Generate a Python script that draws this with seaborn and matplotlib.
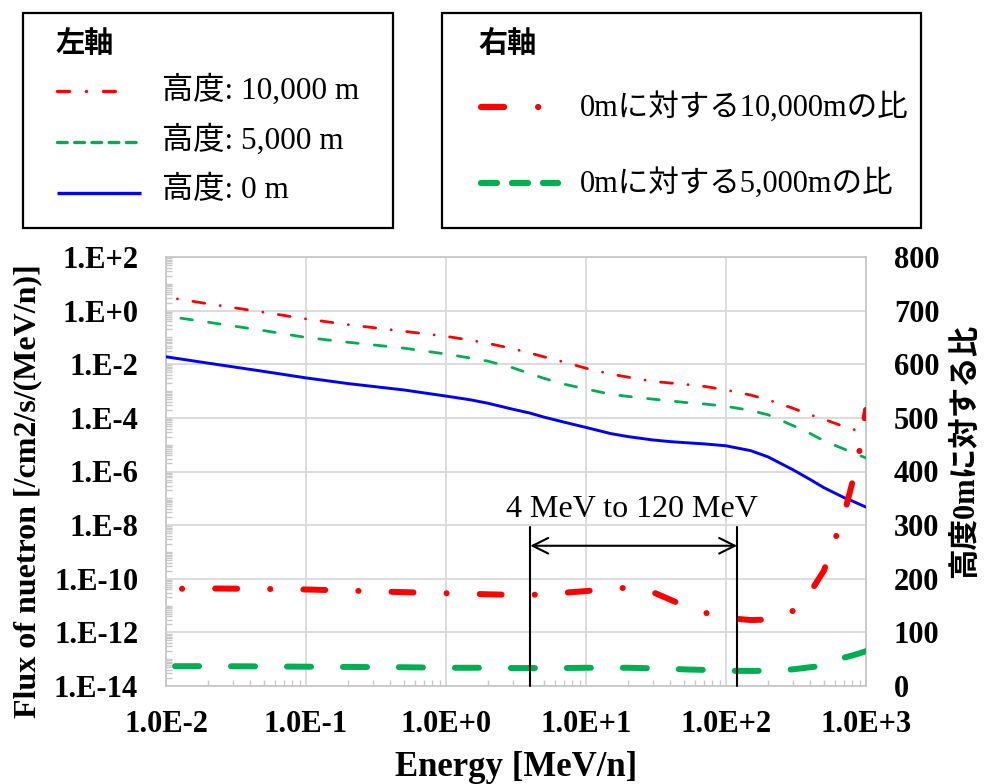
import numpy as np
import pandas as pd
import matplotlib
matplotlib.use("Agg")
import matplotlib.pyplot as plt
import seaborn as sns
from matplotlib.ticker import FixedLocator, FuncFormatter, NullFormatter, LogLocator
from matplotlib.patches import Rectangle
from matplotlib.lines import Line2D

# ---------------- data ----------------
energy = [0.01, 0.02, 0.05, 0.1, 0.2, 0.5, 1, 1.5, 2, 3, 4, 5, 7, 10, 15, 20,
          30, 40, 50, 70, 100, 150, 200, 300, 400, 500, 700, 800, 900, 1000]

# neutron flux [/cm2/s/(MeV/n)] (left axis)
flux_10000m = [3.2, 1.8, 0.87, 0.49, 0.30, 0.17, 0.11, 0.079, 0.060, 0.038,
               0.026, 0.019, 0.012, 7.1e-3, 4.3e-3, 3.3e-3, 2.3e-3, 2.0e-3,
               1.8e-3, 1.5e-3, 1.1e-3, 7.1e-4, 4.7e-4, 2.3e-4, 1.3e-4,
               8.9e-5, 4.7e-5, 3.8e-5, 3.2e-5, 2.5e-5]
flux_5000m = [0.63, 0.37, 0.18, 0.10, 0.066, 0.040, 0.024, 0.017, 0.013,
              7.4e-3, 4.4e-3, 3.0e-3, 1.8e-3, 1.2e-3, 7.6e-4, 6.3e-4, 5.0e-4,
              4.3e-4, 3.8e-4, 3.3e-4, 2.7e-4, 1.9e-4, 1.3e-4, 5.2e-5, 2.6e-5,
              1.4e-5, 6.8e-6, 5.0e-6, 4.0e-6, 3.2e-6]
flux_0m = [1.9e-2, 1.1e-2, 5.4e-3, 3.1e-3, 1.9e-3, 1.1e-3, 6.5e-4, 4.7e-4,
           3.5e-4, 2.1e-4, 1.5e-4, 1.07e-4, 6.9e-5, 4.4e-5, 2.6e-5, 2.0e-5,
           1.5e-5, 1.3e-5, 1.2e-5, 1.07e-5, 9.1e-6, 6.0e-6, 3.5e-6, 1.17e-6,
           5.0e-7, 2.5e-7, 1.05e-7, 7.9e-8, 6.0e-8, 4.7e-8]

# ratio to the 0 m flux (right axis)
ratio_10000m = [181, 182, 181, 180, 178, 175, 173, 172, 171, 170, 170, 171,
                174, 177, 182, 183, 175, 161, 150, 137, 127, 123, 124, 140,
                175, 215, 322, 380, 440, 515]
ratio_5000m = [37, 37, 36.5, 36, 35.5, 35, 34, 34, 34, 33.5, 33.5, 33.5,
               33.5, 34, 34, 34, 33, 32, 31, 30, 28.5, 28, 28.5, 31, 35, 38,
               53, 57, 61, 65]

x_ticks = [1e-2, 1e-1, 1e0, 1e1, 1e2, 1e3]
y_ticks_left = [1e-14, 1e-12, 1e-10, 1e-8, 1e-6, 1e-4, 1e-2, 1e0, 1e2]
y_ticks_right = [0, 100, 200, 300, 400, 500, 600, 700, 800]

band_edges = [4, 120]
band_label = "4 MeV to 120 MeV"

left_title = "左軸"
left_labels = ["高度: 10,000 m", "高度: 5,000 m", "高度: 0 m"]
right_title = "右軸"
right_labels = ["0mに対する10,000mの比", "0mに対する5,000mの比"]

x_label = "Energy [MeV/n]"
y_label_left = "Flux of nuetron [/cm2/s/(MeV/n)]"
y_label_right = "高度0mに対する比"

df = pd.DataFrame({
    "energy": energy,
    "f10000": flux_10000m,
    "f5000": flux_5000m,
    "f0": flux_0m,
    "r10000": ratio_10000m,
    "r5000": ratio_5000m,
})

# ---------------- style ----------------
sns.set_theme(style="white")
plt.rcParams["font.family"] = ["Liberation Serif", "Noto Sans CJK JP"]
plt.rcParams["lines.scale_dashes"] = False
plt.rcParams["axes.unicode_minus"] = False
for key in ["text.color", "axes.labelcolor", "xtick.labelcolor", "ytick.labelcolor"]:
    plt.rcParams[key] = "black"

RED = "#FF0000"
GREEN = "#00B050"
BLUE = "#0000FF"
GRID = "#D9D9D9"
SPINE = "#C8C8C8"

W, H = 986, 784
fig = plt.figure(figsize=(W / 100, H / 100), dpi=100)
fig.patch.set_facecolor("white")


def fx(px):
    return px / W


def fy(py):
    return 1 - py / H


ax_l, ax_r, ax_t, ax_b = 166, 866, 257, 686
ax = fig.add_axes([fx(ax_l), fy(ax_b), (ax_r - ax_l) / W, (ax_b - ax_t) / H])
ax.set_facecolor("white")

# line styles (points, offset sets the phase at the left edge)
ls_flux10000 = (11.5, (8.6, 11.2, 0.1, 11.2))
ls_flux5000 = (9.3, (8.4, 11.7))
ls_ratio10000 = (28.1, (15.8, 23.8, 0.1, 23.8))
ls_ratio5000 = (33.8, (17.3, 23.0))

ax.set_xscale("log")
ax.set_yscale("log")

sns.lineplot(data=df, x="energy", y="f10000", ax=ax, color=RED, lw=2.0,
             linestyle=ls_flux10000, dash_capstyle="round",
             dash_joinstyle="round", zorder=3)
sns.lineplot(data=df, x="energy", y="f5000", ax=ax, color=GREEN, lw=2.0,
             linestyle=ls_flux5000, dash_capstyle="round",
             dash_joinstyle="round", zorder=3)
sns.lineplot(data=df, x="energy", y="f0", ax=ax, color=BLUE, lw=2.1,
             solid_capstyle="round", solid_joinstyle="round", zorder=3)

# right axis: ratios
ax2 = ax.twinx()
sns.lineplot(data=df, x="energy", y="r10000", ax=ax2, color=RED, lw=4.3,
             linestyle=ls_ratio10000, dash_capstyle="round",
             dash_joinstyle="round", zorder=3)
sns.lineplot(data=df, x="energy", y="r5000", ax=ax2, color=GREEN, lw=4.3,
             linestyle=ls_ratio5000, dash_capstyle="round",
             dash_joinstyle="round", zorder=3)

ax.set_xlim(1e-2, 1e3)
ax.set_ylim(1e-14, 1e2)
ax2.set_ylim(0, 800)

# grid and ticks (set after twinx so the shared x axis keeps them)
ax.xaxis.set_major_locator(FixedLocator(x_ticks))
ax.yaxis.set_major_locator(FixedLocator(y_ticks_left))
ax.xaxis.set_minor_locator(LogLocator(base=10, subs=np.arange(2, 10), numticks=50))
ax.yaxis.set_minor_locator(LogLocator(base=10, subs=np.arange(1, 10), numticks=50))
ax.xaxis.set_minor_formatter(NullFormatter())
ax.yaxis.set_minor_formatter(NullFormatter())
ax.xaxis.set_major_formatter(FuncFormatter(lambda v, p: f"1.0E{int(round(np.log10(v))):+d}"))
ax.yaxis.set_major_formatter(FuncFormatter(lambda v, p: f"1.E{int(round(np.log10(v))):+d}"))
ax.grid(True, which="major", color=GRID, lw=1.3)
ax.tick_params(axis="both", which="major", length=0, labelsize=22)
ax.tick_params(axis="x", which="major", pad=17)
ax.tick_params(axis="y", which="major", pad=20)
ax.tick_params(axis="both", which="minor", direction="in", length=4.5,
               width=1.0, color=SPINE)
ax.tick_params(axis="y", which="minor", left=True)
ax.tick_params(axis="x", which="minor", bottom=True)
for s in ax.spines.values():
    s.set_color(SPINE)
    s.set_linewidth(1.3)
ax.set_axisbelow(True)

ax.set_xlabel(x_label, fontsize=25, fontweight="bold", va="center")
ax.xaxis.set_label_coords(0.5, (ax_b - 768) / (ax_b - ax_t))
ax.set_ylabel(y_label_left, fontsize=23, fontweight="bold", va="center")
ax.yaxis.set_label_coords((28 - ax_l) / (ax_r - ax_l), (ax_b - 491) / (ax_b - ax_t))

ax2.yaxis.set_major_locator(FixedLocator(y_ticks_right))
ax2.tick_params(axis="y", which="both", length=0, labelsize=22, pad=20)
for s in ax2.spines.values():
    s.set_visible(False)
ax2.set_ylabel(y_label_right, fontsize=22, fontweight="bold", va="center",
               rotation=90)
ax2.yaxis.set_label_coords((967 - ax_l) / (ax_r - ax_l), (ax_b - 451) / (ax_b - ax_t))
ax2.grid(False)

# energy band 4 MeV - 120 MeV, drawn in flux coordinates on top of everything
band_top = 8.5e-9
for e in band_edges:
    ax2.plot([e, e], [1e-14, band_top], color="black", lw=1.5,
             transform=ax.transData, zorder=6, clip_on=False)
ax2.annotate("", xy=(band_edges[0], 1.7e-9), xytext=(band_edges[1], 1.7e-9),
             xycoords=ax.transData, textcoords=ax.transData,
             arrowprops=dict(arrowstyle="<->", color="black", lw=1.5,
                             mutation_scale=28, shrinkA=0, shrinkB=0),
             zorder=6)
ax2.text(np.sqrt(band_edges[0] * band_edges[1]) * 0.97, 2.0e-8, band_label,
         transform=ax.transData, ha="center", va="baseline", fontsize=23,
         zorder=6)

fig.canvas.draw()
for lab in ax.get_xticklabels() + ax.get_yticklabels() + ax2.get_yticklabels():
    lab.set_fontweight("bold")
    lab.set_color("black")

# ---------------- legend boxes ----------------
for (x0, x1) in [(23, 393), (442, 921)]:
    fig.add_artist(Rectangle((fx(x0), fy(228)), (x1 - x0) / W, (228 - 13) / H,
                             transform=fig.transFigure, fill=False,
                             ec="black", lw=1.6))

fig.text(fx(55), fy(43), left_title, fontsize=21, fontweight="bold",
         family="Noto Sans CJK JP", ha="left", va="center")
fig.text(fx(478), fy(43), right_title, fontsize=21, fontweight="bold",
         family="Noto Sans CJK JP", ha="left", va="center")

left_samples = [
    dict(color=RED, lw=2.4, linestyle=(0, (8.6, 12.2, 0.1, 12.2)), y=91, x0=57, x1=131),
    dict(color=GREEN, lw=2.4, linestyle=(0, (7.0, 5.4)), y=142, x0=57, x1=141),
    dict(color=BLUE, lw=2.4, linestyle="-", y=193, x0=57, x1=141),
]
for s, lab, ty in zip(left_samples, left_labels, [90, 140, 190]):
    fig.add_artist(Line2D([fx(s["x0"]), fx(s["x1"])], [fy(s["y"])] * 2,
                          transform=fig.transFigure, color=s["color"], lw=s["lw"],
                          linestyle=s["linestyle"], dash_capstyle="round",
                          solid_capstyle="butt"))
    fig.text(fx(162), fy(ty), lab, fontsize=22.5, ha="left", va="center")

right_samples = [
    dict(color=RED, linestyle=(0, (16.6, 24.5, 0.1, 24.5)), y=107, x0=481, x1=543),
    dict(color=GREEN, linestyle=(0, (11.5, 10.8)), y=183, x0=481, x1=558),
]
for s, lab in zip(right_samples, right_labels):
    fig.add_artist(Line2D([fx(s["x0"]), fx(s["x1"])], [fy(s["y"])] * 2,
                          transform=fig.transFigure, color=s["color"], lw=4.5,
                          linestyle=s["linestyle"], dash_capstyle="round"))
    fig.text(fx(580), fy(s["y"]), lab, fontsize=22, ha="left", va="center")

fig.savefig("out.png", dpi=100, facecolor="white")
